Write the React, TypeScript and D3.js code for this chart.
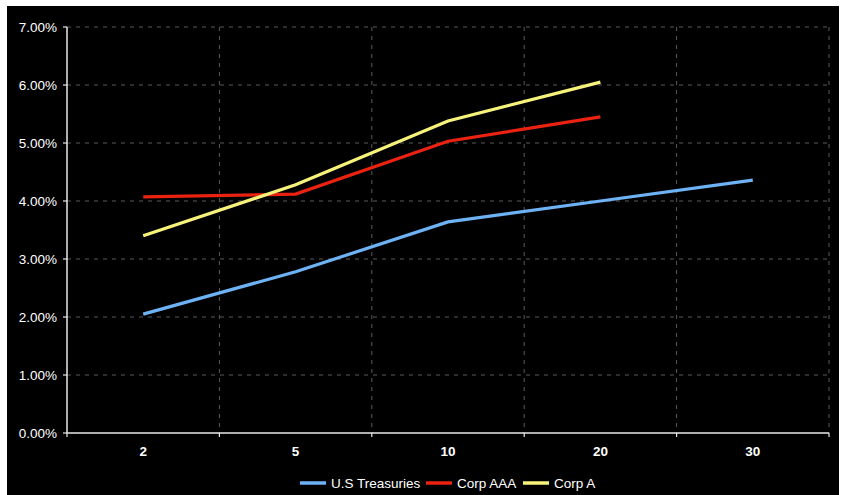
import { useEffect, useRef } from "react";
import { line, scaleBand, scaleLinear, select } from "d3";

const maturities = ["2", "5", "10", "20", "30"];
const yTicks = [0, 1, 2, 3, 4, 5, 6, 7];

const treasuries = [2.05, 2.78, 3.64, 4.0, 4.36];
const corpAAA = [4.07, 4.12, 5.03, 5.45];
const corpA = [3.4, 4.28, 5.38, 6.05];

const series = [
  { name: "U.S Treasuries", values: treasuries, color: "#6cb2f5" },
  { name: "Corp AAA", values: corpAAA, color: "#ea220f" },
  { name: "Corp A", values: corpA, color: "#f7f37a" },
];

const width = 841;
const height = 495;
const margin = { left: 67, right: 12, top: 27, bottom: 62 };

export default function App() {
  const ref = useRef<SVGSVGElement>(null);

  useEffect(() => {
    document.body.style.margin = "0";
    const svg = select(ref.current);
    svg.selectAll("*").remove();

    const x = scaleBand()
      .domain(maturities)
      .range([margin.left, width - margin.right]);
    const y = scaleLinear()
      .domain([0, 7])
      .range([height - margin.bottom, margin.top]);

    const font = "'Liberation Sans', Arial, sans-serif";

    svg.append("rect").attr("width", width).attr("height", height).attr("fill", "#fff");
    svg
      .append("rect")
      .attr("x", 7)
      .attr("y", 6)
      .attr("width", width - 9)
      .attr("height", height - 6)
      .attr("fill", "#000");

    const x0 = margin.left;
    const x1 = width - margin.right;
    const yBase = y(0);

    // horizontal grid
    svg
      .append("g")
      .selectAll("line")
      .data(yTicks.filter((d) => d > 0))
      .join("line")
      .attr("x1", x0)
      .attr("x2", x1)
      .attr("y1", (d) => y(d))
      .attr("y2", (d) => y(d))
      .attr("stroke", "#5a5a5a")
      .attr("stroke-dasharray", "4,5");

    // vertical grid at category boundaries
    const bounds = maturities.map((m) => (x(m) as number) + x.bandwidth());
    svg
      .append("g")
      .selectAll("line")
      .data(bounds)
      .join("line")
      .attr("x1", (d) => d)
      .attr("x2", (d) => d)
      .attr("y1", y(7))
      .attr("y2", yBase)
      .attr("stroke", "#5a5a5a")
      .attr("stroke-dasharray", "4,5");

    // axes
    svg
      .append("line")
      .attr("x1", x0)
      .attr("x2", x0)
      .attr("y1", y(7))
      .attr("y2", yBase)
      .attr("stroke", "#e8e8e8")
      .attr("stroke-width", 1.5);
    svg
      .append("line")
      .attr("x1", x0)
      .attr("x2", x1)
      .attr("y1", yBase)
      .attr("y2", yBase)
      .attr("stroke", "#e8e8e8")
      .attr("stroke-width", 1.5);

    const yg = svg.append("g");
    yg.selectAll("line")
      .data(yTicks)
      .join("line")
      .attr("x1", x0 - 4)
      .attr("x2", x0)
      .attr("y1", (d) => y(d))
      .attr("y2", (d) => y(d))
      .attr("stroke", "#e8e8e8")
      .attr("stroke-width", 1.2);
    yg.selectAll("text")
      .data(yTicks)
      .join("text")
      .attr("x", 57)
      .attr("y", (d) => y(d))
      .attr("dy", "0.35em")
      .attr("text-anchor", "end")
      .attr("fill", "#fff")
      .attr("font-family", font)
      .attr("font-size", 13.5)
      .text((d) => d.toFixed(2) + "%");

    const xg = svg.append("g");
    xg.selectAll("line")
      .data([x0, ...bounds])
      .join("line")
      .attr("x1", (d) => d)
      .attr("x2", (d) => d)
      .attr("y1", yBase)
      .attr("y2", yBase + 4)
      .attr("stroke", "#e8e8e8")
      .attr("stroke-width", 1.2);
    xg.selectAll("text")
      .data(maturities)
      .join("text")
      .attr("x", (d) => (x(d) as number) + x.bandwidth() / 2)
      .attr("y", yBase + 23)
      .attr("text-anchor", "middle")
      .attr("fill", "#fff")
      .attr("font-family", font)
      .attr("font-size", 13.5)
      .attr("font-weight", "bold")
      .text((d) => d);

    const path = line<number>()
      .x((_, i) => (x(maturities[i]) as number) + x.bandwidth() / 2)
      .y((d) => y(d));

    svg
      .append("g")
      .selectAll("path")
      .data(series)
      .join("path")
      .attr("d", (s) => path(s.values))
      .attr("fill", "none")
      .attr("stroke", (s) => s.color)
      .attr("stroke-width", 3.2);

    // legend
    const legendX = [300, 426, 523];
    const lg = svg
      .append("g")
      .selectAll("g")
      .data(series)
      .join("g")
      .attr("transform", (_, i) => `translate(${legendX[i]},483)`);
    lg.append("line")
      .attr("x1", 0)
      .attr("x2", 26)
      .attr("stroke", (s) => s.color)
      .attr("stroke-width", 3.5);
    lg.append("text")
      .attr("x", 31)
      .attr("dy", "0.35em")
      .attr("fill", "#fff")
      .attr("font-family", font)
      .attr("font-size", 13.5)
      .text((s) => s.name);
  }, []);

  return <svg ref={ref} width={width} height={height} style={{ display: "block" }} />;
}
